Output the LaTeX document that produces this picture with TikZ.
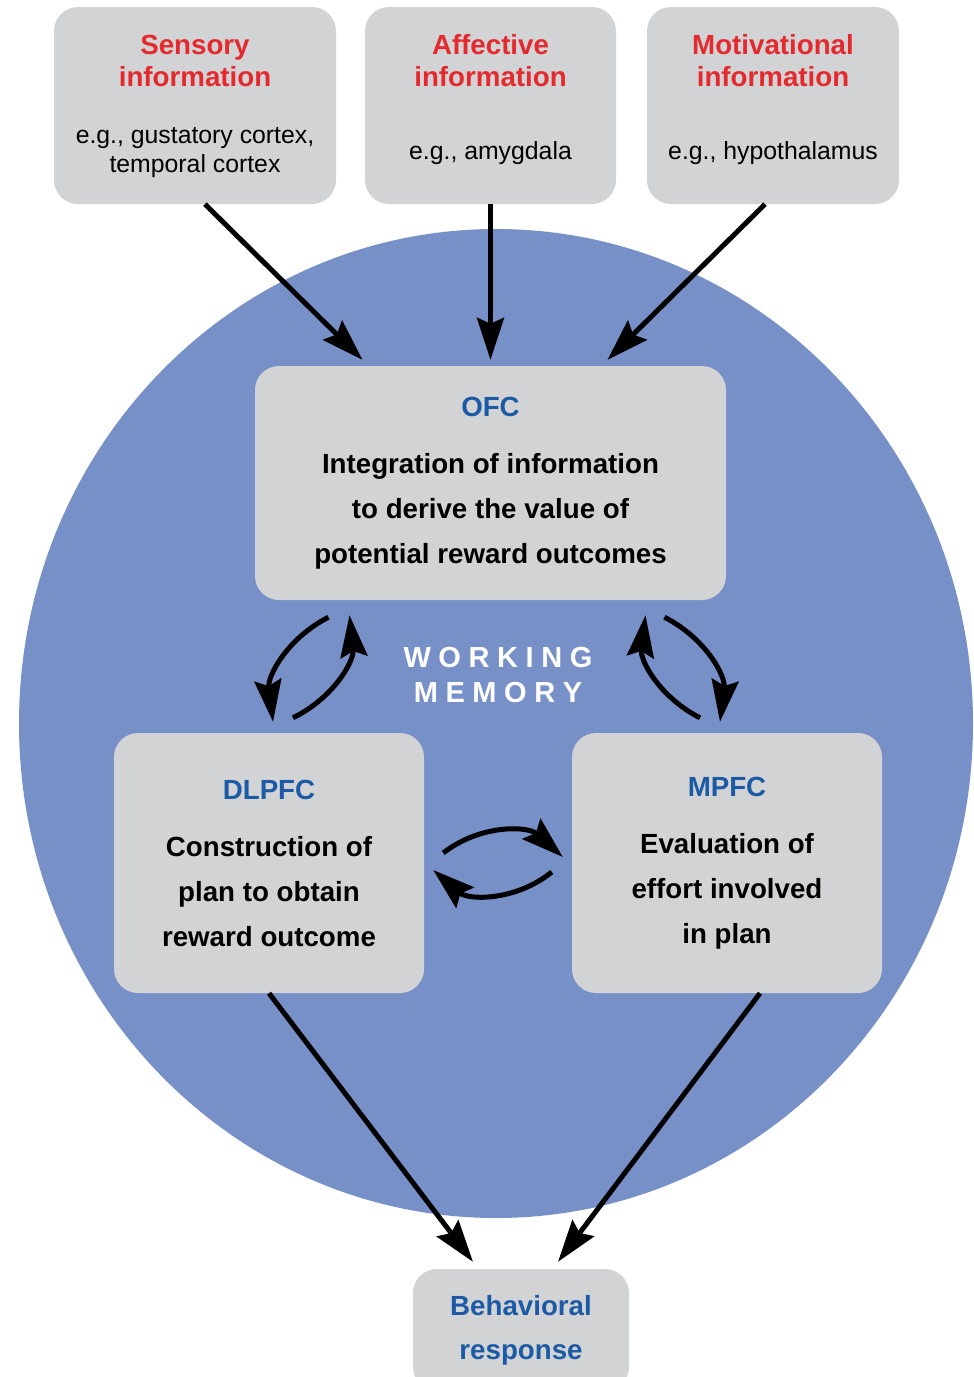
\documentclass[tikz,border=0pt]{standalone}
\usepackage{fontspec}
\setmainfont{Liberation Sans}
\usetikzlibrary{arrows.meta,positioning}
\definecolor{memblue}{HTML}{7790C8}
\definecolor{boxgray}{HTML}{D1D3D4}
\definecolor{srcred}{HTML}{E42A2F}
\definecolor{areablue}{HTML}{1C5AA5}
\newcommand{\trk}{\kern7.6pt}
\tikzset{
  box/.style={fill=boxgray, rounded corners=24pt, inner sep=0pt, align=center,
              font=\bfseries\fontsize{27.7}{45}\selectfont},
  title/.style={text=srcred, align=center, font=\bfseries\fontsize{27.7}{32}\selectfont},
  note/.style={align=center, font=\fontsize{24.8}{29}\selectfont},
  arr/.style={-{Stealth[length=42pt,width=27pt,inset=6pt]}, line width=5pt}
}

\begin{document}
\begin{tikzpicture}[x=1pt,y=-1pt]
  \useasboundingbox (0,0) rectangle (974,1377);
  \fill[memblue] (496,723.5) ellipse [x radius=477pt, y radius=494.5pt];

  % sources
  \node[box, minimum width=282pt, minimum height=197pt] (sens) at (195,105.5) {};
  \node[title] (senst) at (195,61) {Sensory\\information};
  \node[note] (sensn) at (195,153) {e.g., gustatory cortex,\\temporal cortex};
  \node[box, minimum width=251pt, minimum height=197pt] (aff) at (490.5,105.5) {};
  \node[title] (afft) at (490.5,61) {Affective\\information};
  \node[note] (affn) at (490.5,153) {e.g., amygdala};
  \node[box, minimum width=252pt, minimum height=197pt] (mot) at (773,105.5) {};
  \node[title] (mott) at (773,61) {Motivational\\information};
  \node[note] (motn) at (773,153) {e.g., hypothalamus};

  % prefrontal areas
  \node[box, minimum width=471pt, minimum height=234pt] (ofc) at (490.5,483)
    {\textcolor{areablue}{OFC}\\[12pt]Integration of information\\to derive the value of\\potential reward outcomes};
  \node[box, minimum width=310pt, minimum height=260pt] (dlpfc) at (269,863)
    {\textcolor{areablue}{DLPFC}\\[12pt]Construction of\\plan to obtain\\reward outcome};
  \node[box, minimum width=310pt, minimum height=260pt] (mpfc) at (727,863)
    {\textcolor{areablue}{MPFC}\\[12pt]Evaluation of\\effort involved\\in plan};
  \node[box, minimum width=216pt, minimum height=122pt, text=areablue,
        font=\bfseries\fontsize{27.7}{44}\selectfont] (behav) at (521,1330) {Behavioral\\response};

  \node[text=white, align=center, font=\bfseries\fontsize{29}{35}\selectfont] (wm) at (498,675)
    {W\trk O\trk R\trk K\trk I\trk N\trk G\\M\trk E\trk M\trk O\trk R\trk Y};

  % inputs
  \draw[arr] ([xshift=10pt]sens.south) -- ([xshift=-128pt,yshift=6pt]ofc.north);
  \draw[arr] (aff.south) -- ([yshift=6pt]ofc.north);
  \draw[arr] ([xshift=-8pt]mot.south) -- ([xshift=117pt,yshift=6pt]ofc.north);

  % working memory loops
  \draw[arr] ([xshift=-162pt,yshift=-17pt]ofc.south) to[bend right=35] ([xshift=4pt,yshift=11pt]dlpfc.north);
  \draw[arr] ([xshift=24pt,yshift=15pt]dlpfc.north) to[bend right=35] ([xshift=-141pt,yshift=-15pt]ofc.south);
  \draw[arr] ([xshift=174pt,yshift=-17pt]ofc.south) to[bend left=35] ([xshift=-7pt,yshift=11pt]mpfc.north);
  \draw[arr] ([xshift=-27pt,yshift=15pt]mpfc.north) to[bend left=35] ([xshift=155pt,yshift=-15pt]ofc.south);
  \draw[arr] ([xshift=19pt,yshift=10pt]dlpfc.east) to[bend left=40] ([xshift=-9pt,yshift=6pt]mpfc.west);
  \draw[arr] ([xshift=-20pt,yshift=-9pt]mpfc.west) to[bend left=40] ([xshift=9pt,yshift=-7pt]dlpfc.east);

  % output
  \draw[arr] (dlpfc.south) -- ([xshift=-48pt,yshift=7pt]behav.north);
  \draw[arr] ([xshift=33pt]mpfc.south) -- ([xshift=37pt,yshift=7pt]behav.north);
\end{tikzpicture}
\end{document}
